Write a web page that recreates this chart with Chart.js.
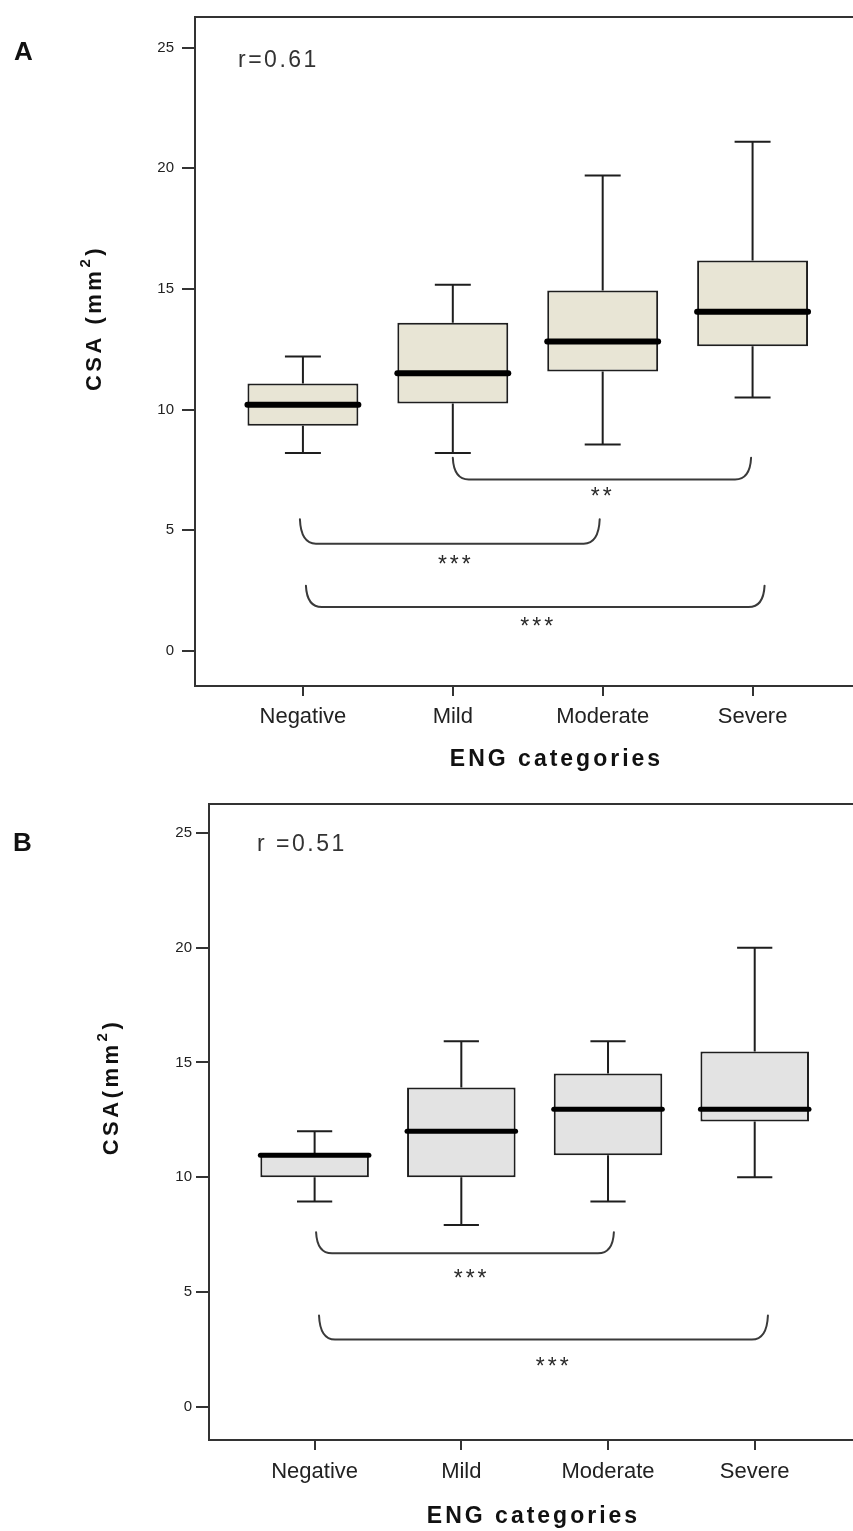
<!DOCTYPE html>
<html>
<head>
<meta charset="utf-8">
<script src="https://cdn.jsdelivr.net/npm/chart.js@4.4.0/dist/chart.umd.min.js"></script>
<style>
  html, body { margin: 0; padding: 0; background: #ffffff; width: 853px; height: 1531px; overflow: hidden; }
  canvas { position: absolute; left: 0; }
</style>
</head>
<body>
<canvas id="chartA" width="853" height="790" style="top:0px;width:853px;height:790px"></canvas>
<canvas id="chartB" width="853" height="746" style="top:785px;width:853px;height:746px"></canvas>
<script>
// ---------------- data ----------------
const categories = ['Negative', 'Mild', 'Moderate', 'Severe'];
const yTickValues = [0, 5, 10, 15, 20, 25];

// Panel A (box plot five-number summaries)
const aWhiskerLow  = [8.2, 8.2, 8.55, 10.5];
const aQ1          = [9.33, 10.25, 11.58, 12.62];
const aMedian      = [10.2, 11.5, 12.82, 14.05];
const aQ3          = [11.08, 13.6, 14.93, 16.18];
const aWhiskerHigh = [12.2, 15.17, 19.7, 21.1];
// Panel A significance brackets (category units / data units)
const aBracketFrom  = [2.0, 0.98, 1.02];
const aBracketTo    = [3.99, 2.98, 4.08];
const aBracketLevel = [7.1, 4.44, 1.81];
const aBracketTip   = [8.0, 5.45, 2.7];
const aStars        = ['**', '***', '***'];
const aStarX        = [2.99, 2.01, 2.56];
const aStarY        = [6.62, 3.82, 1.23];

// Panel B
const bWhiskerLow  = [8.94, 7.91, 8.94, 10.0];
const bQ1          = [10.0, 10.0, 10.96, 12.43];
const bMedian      = [10.96, 12.0, 12.96, 12.96];
const bQ3          = [10.96, 13.91, 14.52, 15.48];
const bWhiskerHigh = [12.0, 15.93, 15.93, 20.0];
const bBracketFrom  = [1.01, 1.03];
const bBracketTo    = [3.04, 4.09];
const bBracketLevel = [6.68, 2.92];
const bBracketTip   = [7.6, 3.97];
const bStars        = ['***', '***'];
const bStarX        = [2.06, 2.62];
const bStarY        = [5.8, 2.0];

// ---------------- drawing helpers ----------------
const FONT = '"Liberation Sans", Arial, sans-serif';
const panels = {};

function setSpacing(ctx, px) {
  if ('letterSpacing' in ctx) ctx.letterSpacing = px + 'px';
}

const extrasPlugin = {
  id: 'boxExtras',
  afterDatasetsDraw(chart) {
    const p = panels[chart.canvas.id];
    const { ctx, scales: { x, y } } = chart;
    const meta = chart.getDatasetMeta(0);
    ctx.save();
    ctx.strokeStyle = '#1e1e1e';
    p.low.forEach((lo, i) => {
      const bar = meta.data[i];
      const cx = x.getPixelForValue(i + 1);
      const capHalf = x.getPixelForValue(i + 1 + 0.12) - cx;
      ctx.lineWidth = 2;
      ctx.lineCap = 'butt';
      ctx.beginPath();
      ctx.moveTo(cx, y.getPixelForValue(p.q3[i]));
      ctx.lineTo(cx, y.getPixelForValue(p.high[i]));
      ctx.moveTo(cx - capHalf, y.getPixelForValue(p.high[i]));
      ctx.lineTo(cx + capHalf, y.getPixelForValue(p.high[i]));
      ctx.moveTo(cx, y.getPixelForValue(p.q1[i]));
      ctx.lineTo(cx, y.getPixelForValue(lo));
      ctx.moveTo(cx - capHalf, y.getPixelForValue(lo));
      ctx.lineTo(cx + capHalf, y.getPixelForValue(lo));
      ctx.stroke();
      ctx.lineWidth = p.medianWidth;
      ctx.lineCap = 'round';
      ctx.strokeStyle = '#000';
      ctx.beginPath();
      const my = y.getPixelForValue(p.median[i]);
      ctx.moveTo(bar.x - bar.width / 2, my);
      ctx.lineTo(bar.x + bar.width / 2, my);
      ctx.stroke();
      ctx.strokeStyle = '#1e1e1e';
    });
    ctx.restore();
  },
  afterDraw(chart) {
    const p = panels[chart.canvas.id];
    const { ctx, chartArea, scales: { x, y } } = chart;
    ctx.save();
    ctx.strokeStyle = '#333';
    ctx.lineWidth = 2;
    ctx.beginPath();
    ctx.moveTo(chartArea.left - 1, chartArea.top);
    ctx.lineTo(chartArea.right + 2, chartArea.top);
    ctx.stroke();

    ctx.strokeStyle = '#3a3a3a';
    ctx.lineWidth = 2;
    ctx.lineCap = 'round';
    p.bFrom.forEach((f, i) => {
      const x0 = x.getPixelForValue(f);
      const x1 = x.getPixelForValue(p.bTo[i]);
      const yl = y.getPixelForValue(p.bLevel[i]);
      const yt = y.getPixelForValue(p.bTip[i]);
      const r = 16;
      ctx.beginPath();
      ctx.moveTo(x0, yt);
      ctx.quadraticCurveTo(x0 + 1, yl, x0 + r, yl);
      ctx.lineTo(x1 - r, yl);
      ctx.quadraticCurveTo(x1 - 1, yl, x1, yt);
      ctx.stroke();
    });
    ctx.fillStyle = '#2a2a2a';
    ctx.font = '23px ' + FONT;
    ctx.textAlign = 'center';
    ctx.textBaseline = 'alphabetic';
    setSpacing(ctx, 3);
    p.stars.forEach((s, i) => {
      const sx = x.getPixelForValue(p.starX[i]) + 1.5;
      const sy = y.getPixelForValue(p.starY[i]) + 13;
      ctx.fillText(s, sx, sy);
    });

    setSpacing(ctx, 0);
    ctx.fillStyle = '#111';
    ctx.textAlign = 'left';
    ctx.font = 'bold 26px ' + FONT;
    ctx.fillText(p.letter, p.letterX, p.letterY);

    ctx.fillStyle = '#333';
    ctx.font = '23px ' + FONT;
    setSpacing(ctx, 2.5);
    ctx.fillText(p.rText, p.rX, p.rY);

    ctx.fillStyle = '#111';
    ctx.font = 'bold 23px ' + FONT;
    setSpacing(ctx, 3);
    ctx.textAlign = 'center';
    ctx.fillText(p.xTitle, p.xTitleX + 1.5, p.xTitleY);

    ctx.save();
    ctx.translate(p.yTitleX, p.yTitleY);
    ctx.rotate(-Math.PI / 2);
    ctx.textAlign = 'left';
    setSpacing(ctx, 3.5);
    ctx.font = 'bold 22px ' + FONT;
    const w1 = ctx.measureText(p.yMain).width;
    const w3 = ctx.measureText(')').width;
    ctx.font = 'bold 15px ' + FONT;
    const w2 = ctx.measureText('2').width;
    let x0 = -(w1 + w2 + w3) / 2;
    ctx.font = 'bold 22px ' + FONT;
    ctx.fillText(p.yMain, x0, 8);
    ctx.font = 'bold 15px ' + FONT;
    ctx.fillText('2', x0 + w1, -3);
    ctx.font = 'bold 22px ' + FONT;
    ctx.fillText(')', x0 + w1 + w2, 8);
    ctx.restore();

    ctx.restore();
  }
};

function makePanel(id, p) {
  panels[id] = p;
  return new Chart(document.getElementById(id), {
    type: 'bar',
    data: {
      datasets: [{
        data: p.q1.map((v, i) => ({ x: i + 1, y: [v, p.q3[i]] })),
        backgroundColor: p.fill,
        borderColor: '#1e1e1e',
        borderWidth: 2,
        borderSkipped: false,
        categoryPercentage: 1,
        barPercentage: 0.74
      }]
    },
    options: {
      responsive: false,
      animation: false,
      devicePixelRatio: 1,
      layout: { padding: { top: p.padTop, left: 0, right: 0, bottom: 0 } },
      plugins: { legend: { display: false }, tooltip: { enabled: false } },
      scales: {
        x: {
          type: 'linear',
          offset: false,
          min: 0.28,
          max: 4.67,
          afterBuildTicks: s => { s.ticks = categories.map((c, i) => ({ value: i + 1 })); },
          afterFit: s => { s.height = p.xHeight; },
          ticks: {
            callback: v => categories[v - 1],
            font: { family: FONT, size: 22 },
            color: '#222',
            padding: p.xPad,
            autoSkip: false,
            maxRotation: 0
          },
          grid: { offset: false, drawOnChartArea: false, drawTicks: true, tickLength: 10, color: '#333', lineWidth: 2 },
          border: { display: true, color: '#333', width: 2 }
        },
        y: {
          type: 'linear',
          min: -1.46,
          max: 26.27,
          afterBuildTicks: s => { s.ticks = yTickValues.map(v => ({ value: v })); },
          afterFit: s => { s.width = p.yWidth; },
          ticks: {
            font: { family: FONT, size: 15 },
            color: '#222',
            padding: p.yPad
          },
          grid: { drawOnChartArea: false, drawTicks: true, tickLength: 13, color: '#333', lineWidth: 2 },
          border: { display: true, color: '#333', width: 2 }
        }
      }
    },
    plugins: [extrasPlugin]
  });
}

makePanel('chartA', {
  low: aWhiskerLow, q1: aQ1, median: aMedian, q3: aQ3, high: aWhiskerHigh,
  bFrom: aBracketFrom, bTo: aBracketTo, bLevel: aBracketLevel, bTip: aBracketTip,
  stars: aStars, starX: aStarX, starY: aStarY,
  fill: '#e8e5d5', medianWidth: 6,
  padTop: 12, xHeight: 104, yWidth: 195, xPad: 8, yPad: 8,
  letter: 'A', letterX: 14, letterY: 60,
  rText: 'r=0.61', rX: 238, rY: 67,
  xTitle: 'ENG categories', xTitleX: 555, xTitleY: 766,
  yMain: 'CSA (mm', yTitleX: 93, yTitleY: 318
});

makePanel('chartB', {
  low: bWhiskerLow, q1: bQ1, median: bMedian, q3: bQ3, high: bWhiskerHigh,
  bFrom: bBracketFrom, bTo: bBracketTo, bLevel: bBracketLevel, bTip: bBracketTip,
  stars: bStars, starX: bStarX, starY: bStarY,
  fill: '#e3e3e3', medianWidth: 5,
  padTop: 19, xHeight: 91, yWidth: 209, xPad: 9, yPad: 4,
  letter: 'B', letterX: 13, letterY: 66,
  rText: 'r =0.51', rX: 257, rY: 66,
  xTitle: 'ENG categories', xTitleX: 532, xTitleY: 738,
  yMain: 'CSA(mm', yTitleX: 110, yTitleY: 302
});
</script>
</body>
</html>
